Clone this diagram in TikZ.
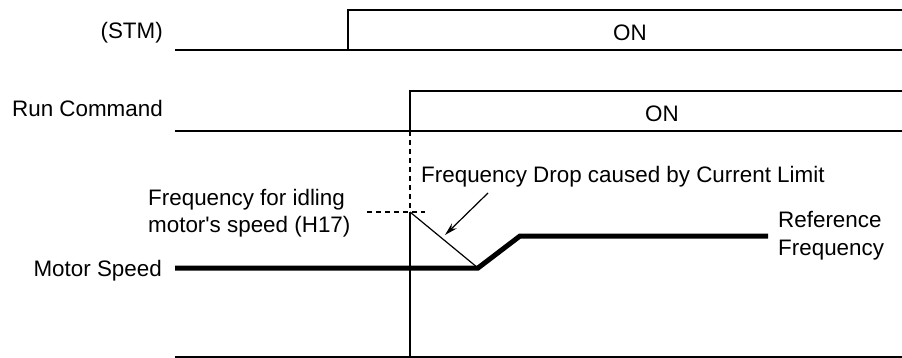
\documentclass[tikz,border=0pt]{standalone}
\usepackage{fontspec}
\setmainfont{Liberation Sans}[Ligatures=TeXOff]
\usetikzlibrary{arrows.meta}
\begin{document}
\begin{tikzpicture}[x=1pt,y=-1pt,
  sigln/.style={line width=1.5pt},
  thinln/.style={line width=1.2pt},
  thickln/.style={line width=5pt},
  dashln/.style={line width=1.2pt, dash pattern=on 5pt off 4pt},
  lbl/.style={inner sep=0pt, font=\fontsize{22.4}{27}\selectfont}]
\useasboundingbox (0,0) rectangle (902,358);
% coordinates
\coordinate (s0) at (175,50);
\coordinate (s1) at (348,50);
\coordinate (s2) at (348,10);
\coordinate (s3) at (902,10);
\coordinate (s4) at (902,50);
\coordinate (r0) at (175,131);
\coordinate (r1) at (410,131);
\coordinate (r2) at (410,91);
\coordinate (r3) at (902,91);
\coordinate (r4) at (902,131);
\coordinate (b0) at (175,357);
\coordinate (b1) at (902,357);
\coordinate (v0) at (410,357);
\coordinate (h17) at (410,212);
\coordinate (d0) at (367,212);
\coordinate (d1) at (425,212);
\coordinate (m0) at (175,268);
\coordinate (m1) at (478,268);
\coordinate (m2) at (520,236);
\coordinate (m3) at (768,236);
\coordinate (a0) at (488,193);
\coordinate (a1) at (445,235);
% signals
\draw[sigln] (s0) -- (s4);
\draw[sigln] (s1) -- (s2) -- (s3);
\draw[sigln] (r0) -- (r4);
\draw[sigln] (r1) -- (r2) -- (r3);
\draw[sigln] (b0) -- (b1);
\draw[thinln] (h17) -- (v0);
\draw[dashln] (r1) -- (h17);
\draw[dashln] (d0) -- (d1);
\draw[thinln] (h17) -- (m1);
\draw[thickln] (m0) -- (m1) -- (m2) -- (m3);
\draw[thinln,-{Stealth[length=13pt,width=7pt]}] (a0) -- (a1);
% labels
\node[lbl,anchor=base east] (stm) at (163,39) {(STM)};
\node[lbl,anchor=base] (on1) at (630,41) {ON};
\node[lbl,anchor=base east] (run) at (163,117) {Run Command};
\node[lbl,anchor=base] (on2) at (662,122) {ON};
\node[lbl,anchor=base west] (drop) at (421,183) {Frequency Drop caused by Current Limit};
\node[lbl,anchor=base west] (idle1) at (148,206) {Frequency for idling};
\node[lbl,anchor=base west] (idle2) at (148,233) {motor's speed (H17)};
\node[lbl,anchor=base east] (ms) at (162,276) {Motor Speed};
\node[lbl,anchor=base west] (ref1) at (778,228) {Reference};
\node[lbl,anchor=base west] (ref2) at (778,255) {Frequency};
\end{tikzpicture}
\end{document}
